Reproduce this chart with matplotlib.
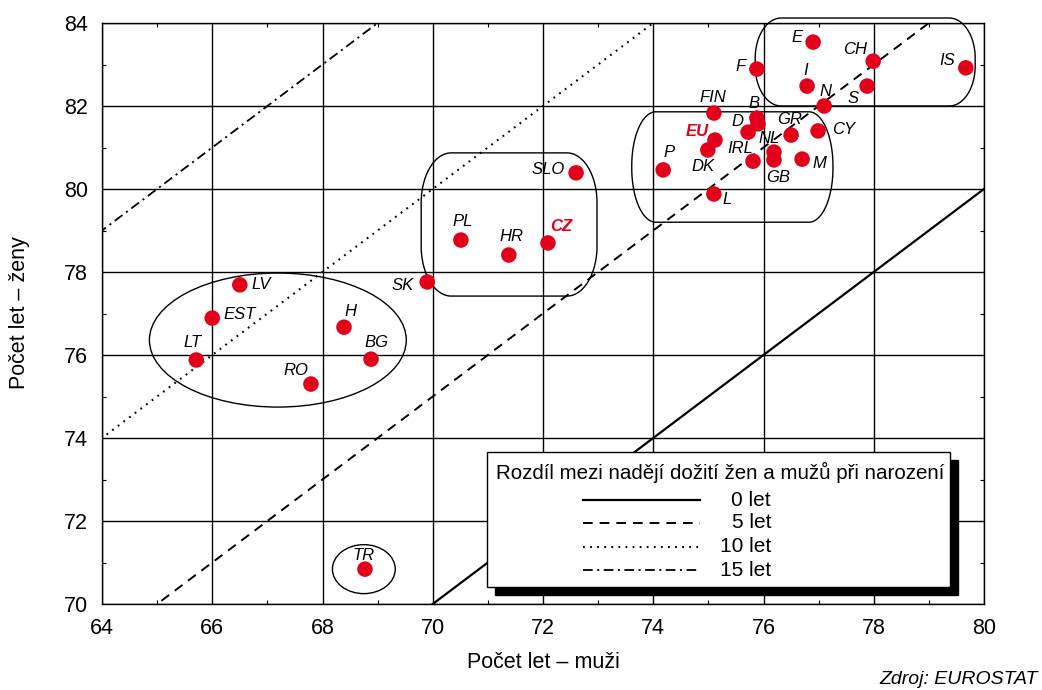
import numpy as np
import matplotlib
matplotlib.use("Agg")
import matplotlib.pyplot as plt
from matplotlib.patches import Rectangle, Ellipse, Polygon
import matplotlib.transforms as mtransforms

plt.rcParams['font.family'] = ['Liberation Sans', 'DejaVu Sans']
plt.rcParams['lines.scale_dashes'] = False

# Life expectancy at birth (years)
countries = ["LV", "EST", "LT", "H", "BG", "RO", "SK", "PL", "HR", "CZ", "SLO", "TR",
             "P", "FIN", "EU", "DK", "D", "B", "A", "IRL", "NL", "GB", "GR", "CY", "M", "L",
             "E", "CH", "IS", "F", "I", "S", "N"]
men = [66.50, 66.00, 65.71, 68.39, 68.88, 67.79, 69.90, 70.51, 71.38, 72.09, 72.60, 68.77,
       74.18, 75.10, 75.12, 74.99, 75.72, 75.88, 75.90, 75.81, 76.19, 76.19, 76.50, 76.99, 76.70, 75.10,
       76.90, 77.99, 79.67, 75.88, 76.79, 77.88, 77.10]
women = [77.69, 76.89, 75.88, 76.67, 75.90, 75.30, 77.76, 78.77, 78.41, 78.70, 80.39, 70.84,
         80.46, 81.83, 81.18, 80.94, 81.37, 81.71, 81.57, 80.67, 80.89, 80.70, 81.30, 81.40, 80.72, 79.88,
         83.54, 83.08, 82.92, 82.89, 82.48, 82.48, 82.00]
highlighted = ["EU", "CZ"]
unlabelled = ["A"]

# Reference lines: women = men + gap
gaps = [0, 5, 10, 15]
gap_labels = ["0 let", "5 let", "10 let", "15 let"]

x_ticks = [64, 66, 68, 70, 72, 74, 76, 78, 80]
y_ticks = [70, 72, 74, 76, 78, 80, 82, 84]

# label placement: offset of label centre from the point, in pixels (right, up)
label_offsets = {
    "LV": (21, 0), "EST": (27, 4), "LT": (-4, 17), "H": (6, 16), "BG": (5, 17),
    "RO": (-15, 14), "SK": (-25, -4), "PL": (2, 19), "HR": (3, 18), "CZ": (13, 16),
    "SLO": (-28, 3), "TR": (-1, 14), "P": (6, 17), "FIN": (-1, 16), "EU": (-18, 9),
    "DK": (-5, -17), "D": (-11, 11), "B": (-3, 15), "IRL": (-13, 13), "NL": (-5, 14),
    "GB": (4, -18), "GR": (-1, 16), "CY": (26, 1), "M": (17, -4), "L": (13, -6),
    "E": (-16, 5), "CH": (-18, 12), "IS": (-19, 7), "F": (-16, 3), "I": (-1, 16),
    "N": (1, 15), "S": (-14, -12),
}

RED = "#e2001a"

fig = plt.figure(figsize=(10.42, 6.90), dpi=100)
ax = fig.add_axes([102 / 1042, 1 - 604 / 690, 882 / 1042, 581 / 690])
ax.set_xlim(64, 80)
ax.set_ylim(70, 84)

ax.set_xticks(x_ticks)
ax.set_yticks(y_ticks)
ax.set_xticks(np.arange(65, 80, 2), minor=True)
ax.set_yticks(np.arange(71, 84, 2), minor=True)
ax.tick_params(which='major', length=0, labelsize=15.5, pad=10)
ax.tick_params(which='minor', direction='in', length=3, width=0.8, top=True, right=True)
ax.grid(True, which='major', color='black', linewidth=1.0)
ax.set_axisbelow(True)
for sp in ax.spines.values():
    sp.set_linewidth(1.0)

# gap lines
styles = ['-', (0, (7, 5)), (0, (1.3, 3.8)), (0, (7, 3.2, 1.5, 3.2))]
widths = [1.6, 1.4, 1.5, 1.3]
xs = np.array([60.0, 84.0])
for g, ls, lw in zip(gaps, styles, widths):
    ax.plot(xs, xs + g, color='black', linestyle=ls, linewidth=lw, zorder=2)


def rounded_outline(x0, x1, y0, y1, rx, ry, n=40):
    """Rectangle with elliptical corners; rx, ry in data units."""
    pts = []
    corners = [(x1 - rx, y1 - ry, 0.0), (x0 + rx, y1 - ry, 90.0),
               (x0 + rx, y0 + ry, 180.0), (x1 - rx, y0 + ry, 270.0)]
    for cx, cy, a0 in corners:
        t = np.radians(np.linspace(a0, a0 + 90, n))
        pts.extend(zip(cx + rx * np.cos(t), cy + ry * np.sin(t)))
    return np.array(pts)


px_x = 882 / 16.0
px_y = 581 / 14.0

# country group outlines
ax.add_patch(Ellipse((67.19, 76.36), 4.66, 3.23, fill=False, edgecolor='black', lw=1.0, zorder=3))
ax.add_patch(Ellipse((68.75, 70.84), 1.14, 1.18, fill=False, edgecolor='black', lw=1.0, zorder=3))
for (x0, x1, y0, y1, rxp, ryp) in [(69.79, 72.98, 77.42, 80.87, 30, 50),
                                   (73.61, 77.26, 79.20, 81.86, 24, 54),
                                   (75.85, 79.84, 82.00, 84.12, 26, 40)]:
    poly = Polygon(rounded_outline(x0, x1, y0, y1, rxp / px_x, ryp / px_y), closed=True,
                   fill=False, edgecolor='black', lw=1.0, zorder=3, clip_on=False)
    ax.add_patch(poly)

ax.scatter(men, women, s=125, color=RED, edgecolors='none', zorder=5)

for c, xv, yv in zip(countries, men, women):
    if c in unlabelled:
        continue
    dx, dy = label_offsets[c]
    hl = c in highlighted
    ax.annotate(c, (xv, yv), xytext=(dx, dy), textcoords='offset pixels',
                ha='center', va='center', fontsize=12, style='italic',
                fontweight='bold' if hl else 'normal',
                color=RED if hl else 'black', zorder=6)

# legend box with solid shadow
to_ax = ax.transAxes
lx0, lx1 = (487 - 102) / 882, (950 - 102) / 882
ly0, ly1 = (604 - 587) / 581, (604 - 452) / 581
shadow_tr = to_ax + mtransforms.ScaledTranslation(8 / 100, -8 / 100, fig.dpi_scale_trans)
ax.add_patch(Rectangle((lx0, ly0), lx1 - lx0, ly1 - ly0, transform=shadow_tr,
                       facecolor='black', edgecolor='black', zorder=8, clip_on=False))
ax.add_patch(Rectangle((lx0, ly0), lx1 - lx0, ly1 - ly0, transform=to_ax,
                       facecolor='white', edgecolor='black', lw=1.0, zorder=9, clip_on=False))
ax.text((720 - 102) / 882, (604 - 472) / 581,
        "Rozdíl mezi nadějí dožití žen a mužů při narození",
        transform=to_ax, ha='center', va='center', fontsize=14.8, zorder=10)
row_px = [500, 523, 547, 570]
hx0, hx1 = (583 - 102) / 882, (700 - 102) / 882
for ypx, ls, lw, lab in zip(row_px, styles, widths, gap_labels):
    yy = (604 - ypx) / 581
    ax.plot([hx0, hx1], [yy, yy], transform=to_ax, color='black', linestyle=ls,
            linewidth=lw, zorder=10, clip_on=False)
    ax.text((771 - 102) / 882, yy, lab, transform=to_ax, ha='right', va='center',
            fontsize=15, zorder=10)

fig.text(543 / 1042, 1 - 663 / 690, "Počet let – muži", ha='center', va='center', fontsize=15.5)
fig.text(20 / 1042, 1 - 313 / 690, "Počet let – ženy", ha='center', va='center',
         rotation=90, fontsize=15.5)
fig.text(1038 / 1042, 1 - 680 / 690, "Zdroj: EUROSTAT", ha='right', va='center',
         fontsize=14, style='italic')

fig.savefig("out.png", dpi=100)
